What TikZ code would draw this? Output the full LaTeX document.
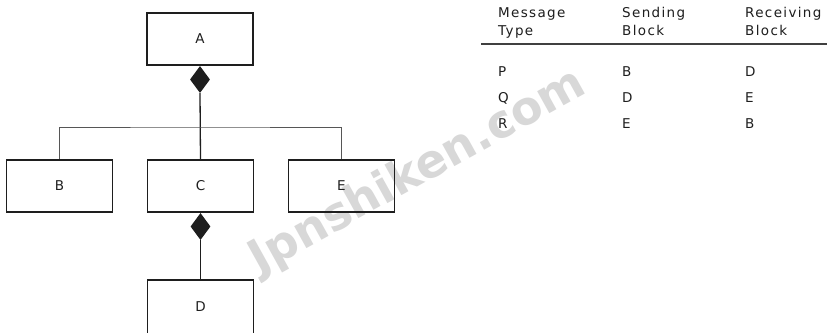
\documentclass[tikz,border=0pt]{standalone}
\usepackage{fontspec}
\setmainfont{DejaVu Sans}
\usetikzlibrary{shapes.geometric}
\definecolor{ink}{HTML}{1E1E1E}
\definecolor{txt}{HTML}{1E1E1E}
\definecolor{wm}{HTML}{D8D8D8}
\newcommand\blockfont{\fontsize{13.5}{16}\selectfont\addfontfeature{LetterSpace=10}}
\newcommand\tablefont{\fontsize{13.5}{16}\selectfont\addfontfeature{LetterSpace=10}}
\newcommand\markfont{\fontsize{46}{50}\bfseries\selectfont}
\begin{document}
\begin{tikzpicture}[x=1pt,y=-1pt,
  blockbox/.style={draw=ink, line width=1.6pt, minimum width=106pt,
    minimum height=52pt, inner sep=0pt, font=\blockfont, text=txt},
  compdiamond/.style={diamond, fill=ink, draw=none, minimum width=20pt,
    minimum height=27pt, inner sep=0pt, anchor=north},
  link/.style={draw=ink, line width=1.3pt},
  bar/.style={draw=ink!75, line width=1pt},
  cell/.style={anchor=base west, inner sep=0pt, font=\tablefont, text=txt}]
\useasboundingbox (0,0) rectangle (827,332);
\fill[white] (0,0) rectangle (827,332);
\clip (0,0) rectangle (827,332);

% faint site mark behind everything
\node[text=wm, font=\markfont, rotate=29] (mark) at (418,172) {Jpnshiken.com};

% blocks
\node[blockbox] (A) at (200,39) {A};
\node[blockbox] (B) at (59.5,186) {B};
\node[blockbox] (C) at (200.5,186) {C};
\node[blockbox] (E) at (341.5,186) {E};
\node[blockbox, minimum height=56pt] (D) at (200.5,308) {\raisebox{2pt}{D}};

% composition diamonds
\node[compdiamond] (dA) at (A.south) {};
\node[compdiamond] (dC) at (C.south) {};

% connectors
\coordinate (bar) at (200,127);
\draw[link] (dA.south) -- (C.north);
\draw[bar] (B.north) |- (bar) -| (E.north);
\draw[link] (dC.south) -- (D.north);

% message table
\node[cell] (h1a) at (498,17) {Message};
\node[cell] (h1b) at (498,35) {Type};
\node[cell] (h2a) at (622,17) {Sending};
\node[cell] (h2b) at (622,35) {Block};
\node[cell] (h3a) at (745,17) {Receiving};
\node[cell] (h3b) at (745,35) {Block};
\coordinate (ruleL) at (481,44);
\coordinate (ruleR) at (827,44);
\draw[draw=ink!85, line width=1.3pt] (ruleL) -- (ruleR);

\node[cell] (p1) at (498,76) {P};
\node[cell] (p2) at (622,76) {B};
\node[cell] (p3) at (745,76) {D};
\node[cell] (q1) at (498,102) {Q};
\node[cell] (q2) at (622,102) {D};
\node[cell] (q3) at (745,102) {E};
\node[cell] (r1) at (498,128) {R};
\node[cell] (r2) at (622,128) {E};
\node[cell] (r3) at (745,128) {B};
\end{tikzpicture}
\end{document}
